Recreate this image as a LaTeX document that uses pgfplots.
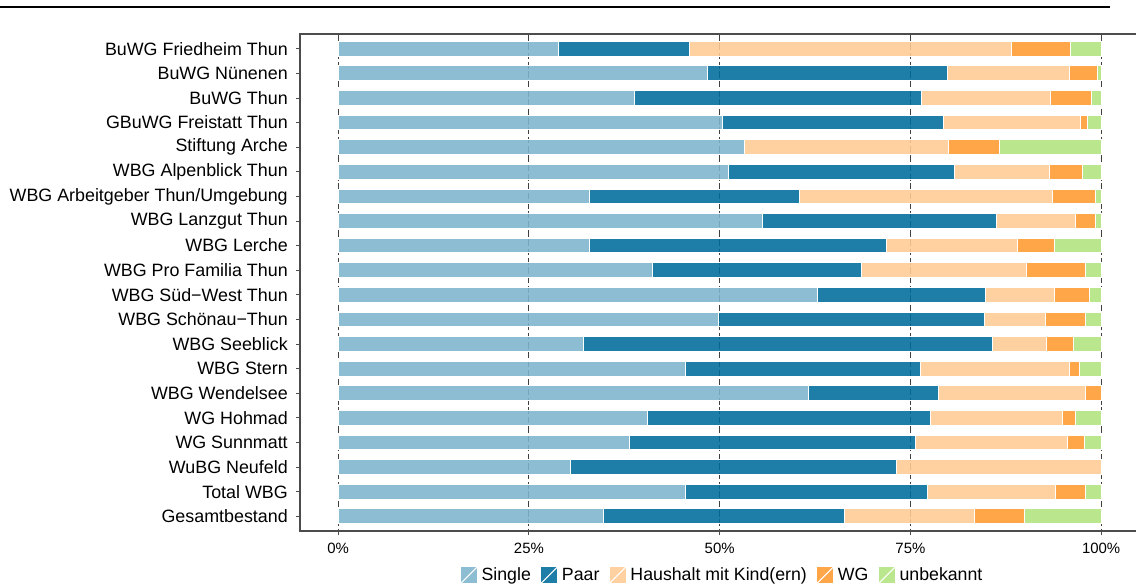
\documentclass[border=0pt]{standalone}
\usepackage{pgfplots}
\pgfplotsset{compat=1.18}
\usepackage{pgfplotstable}
\usepackage{fontspec}
\setmainfont{Liberation Sans}
\usetikzlibrary{calc}

\definecolor{cSingle}{HTML}{7CB4CD}
\definecolor{cPaar}{HTML}{006C9C}
\definecolor{cHaus}{HTML}{FFCB94}
\definecolor{cWG}{HTML}{FF9A30}
\definecolor{cUnb}{HTML}{B1E47E}

% shares in percent, rows from top to bottom
\pgfplotstableread{
y  single paar haus wg  unb
1  28.9   17.1 42.2 7.8 4.0
2  48.4   31.4 16.0 3.7 0.5
3  38.9   37.6 16.8 5.4 1.3
4  50.4   28.9 18.0 0.9 1.8
5  53.3   0.0  26.7 6.7 13.3
6  51.1   29.7 12.4 4.3 2.5
7  33.0   27.5 33.1 5.6 0.8
8  55.6   30.7 10.4 2.6 0.7
9  32.9   39.0 17.1 4.9 6.1
10 41.2   27.4 21.6 7.8 2.0
11 62.8   22.0 9.1  4.6 1.5
12 49.8   34.9 8.0  5.2 2.1
13 32.1   53.6 7.1  3.6 3.6
14 45.5   30.8 19.5 1.4 2.8
15 61.7   17.0 19.2 2.1 0.0
16 40.5   37.1 17.3 1.7 3.4
17 38.2   37.5 19.9 2.2 2.2
18 30.4   42.8 26.8 0.0 0.0
19 45.5   31.7 16.8 3.9 2.1
20 34.8   31.6 17.0 6.6 10.0
}\shares

\begin{document}
\begin{tikzpicture}
\begin{axis}[
  name=ax,
  xbar stacked,
  scale only axis,
  width=635.2pt, height=372.75pt,
  xmin=-5, xmax=106,
  ymin=0.4, ymax=20.6,
  y dir=reverse,
  bar width=0.6,
  ytick={1,...,20},
  yticklabels={BuWG Friedheim Thun, BuWG Nünenen, BuWG Thun, GBuWG Freistatt Thun,
    Stiftung Arche, WBG Alpenblick Thun, WBG Arbeitgeber Thun/Umgebung, WBG Lanzgut Thun,
    WBG Lerche, WBG Pro Familia Thun, WBG Süd−West Thun, WBG Schönau−Thun, WBG Seeblick,
    WBG Stern, WBG Wendelsee, WG Hohmad, WG Sunnmatt, WuBG Neufeld, Total WBG, Gesamtbestand},
  xtick={0,25,50,75,100},
  xticklabels={0\%,25\%,50\%,75\%,100\%},
  xmajorgrids,
  major grid style={draw=black!75, line width=0.6pt, dash pattern=on 5pt off 2pt},
  tick pos=left,
  tick align=outside,
  major tick length=3pt,
  tick style={draw=black!70, line width=0.6pt},
  axis line style={draw=none},
  yticklabel style={font=\fontsize{13.4}{16}\selectfont, inner sep=0pt, xshift=-6pt},
  xticklabel style={font=\fontsize{11.2}{13}\selectfont, inner sep=0pt, yshift=-6pt},
  cycle list={{fill=cSingle},{fill=cPaar},{fill=cHaus},{fill=cWG},{fill=cUnb}},
  every axis plot/.append style={draw=white, line width=0.75pt, fill opacity=0.88},
  legend columns=-1,
  legend image code/.code={
    \fill[#1, draw=none] (0pt,-6pt) rectangle (12pt,6pt);
    \draw[white, line width=0.8pt] (0pt,-6pt) -- (12pt,6pt);
  },
  legend style={at={(0.5,-0.0885)}, anchor=center, draw=none, fill=none,
    font=\fontsize{13.3}{15}\selectfont,
    nodes={inner sep=3pt},
    /tikz/every even column/.append style={column sep=4.5pt}},
]
\addplot table[x=single, y=y] {\shares};
\addplot table[x=paar, y=y] {\shares};
\addplot table[x=haus, y=y] {\shares};
\addplot table[x=wg, y=y] {\shares};
\addplot table[x=unb, y=y] {\shares};
\legend{Single, Paar, Haushalt mit Kind(ern), WG, unbekannt}
\end{axis}
% panel border: top, left and bottom (the right side lies beyond the picture)
\draw[black!70, line width=0.8pt] ($(ax.north west)+(627pt,0pt)$) -- (ax.north west) -- (ax.south west) -- ($(ax.south west)+(627pt,0pt)$);
\pgfresetboundingbox
\path[use as bounding box] ($(ax.south west)+(-225pt,-41.25pt)$) rectangle ($(ax.south west)+(627pt,398.25pt)$);
\draw[line width=1.5pt] ($(ax.south west)+(-225pt,393pt)$) -- ++(832.5pt,0pt);
\end{tikzpicture}
\end{document}
